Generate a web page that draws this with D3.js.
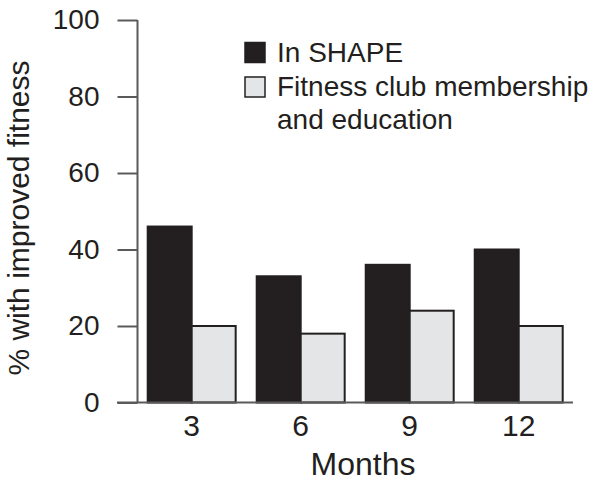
<!DOCTYPE html>
<html><head><meta charset="utf-8">
<script src="https://cdn.jsdelivr.net/npm/d3@7"></script>
<style>body{margin:0;background:#fff}svg{display:block}text{font-family:"Liberation Sans",Arial,sans-serif;fill:#231f20}</style>
</head><body><svg id="c" width="600" height="483"></svg>
<script>
const months = ["3","6","9","12"];
const seriesNames = ["In SHAPE","Fitness club membership and education"];
const inShape = [46,33,36,40];
const fitnessClub = [20,18,24,20];
const yTicks = [0,20,40,60,80,100];

const svg = d3.select("#c");
const x0 = d3.scaleBand().domain(months).range([138,572.4]).paddingInner(0.193).paddingOuter(0.089);
const x1 = d3.scaleBand().domain([0,1]).range([0,x0.bandwidth()]);
const y = d3.scaleLinear().domain([0,100]).range([402.5,20]);
const fills = ["#231f20","#e4e5e6"];
const axisCol = "#5a5a5c";

// bars
const data = months.map((m,i)=>({m, v:[inShape[i],fitnessClub[i]]}));
const g = svg.append("g");
data.forEach(d=>{
  d.v.forEach((v,j)=>{
    g.append("rect")
      .attr("x", x0(d.m)+x1(j)).attr("width", x1.bandwidth())
      .attr("y", y(v)).attr("height", y(0)-y(v))
      .attr("fill", fills[j]).attr("stroke","#231f20").attr("stroke-width",2);
  });
});

// y axis
const ya = svg.append("g").attr("transform","translate(137.5,0)")
  .call(d3.axisLeft(y).tickValues(yTicks).tickSize(20).tickPadding(18));
ya.select(".domain").attr("d",`M0,${y(100)}V${y(0)}`);
ya.selectAll("path,line").attr("stroke",axisCol).attr("stroke-width",2);
ya.selectAll("text").style("font-size","28px").attr("fill","#231f20").attr("font-family","Liberation Sans, Arial, sans-serif");

// x axis baseline
svg.append("line").attr("x1",117).attr("x2",573).attr("y1",y(0)).attr("y2",y(0))
  .attr("stroke",axisCol).attr("stroke-width",2);
const xa = svg.append("g").attr("transform",`translate(0,${y(0)})`)
  .call(d3.axisBottom(x0).tickSize(0).tickPadding(12));
xa.select(".domain").remove();
xa.selectAll("text").style("font-size","30px").attr("fill","#231f20").attr("font-family","Liberation Sans, Arial, sans-serif");

// axis titles
svg.append("text").attr("x",363).attr("y",475).attr("text-anchor","middle").style("font-size","32px").text("Months");
svg.append("text").attr("transform","translate(29,218) rotate(-90)").attr("text-anchor","middle").style("font-size","30px").text("% with improved fitness");

// legend
const lg = svg.append("g");
lg.append("rect").attr("x",245).attr("y",42.5).attr("width",20).attr("height",20).attr("fill",fills[0]).attr("stroke","#231f20").attr("stroke-width",1.5);
lg.append("rect").attr("x",245).attr("y",77).attr("width",20).attr("height",20).attr("fill",fills[1]).attr("stroke","#231f20").attr("stroke-width",1.5);
lg.append("text").attr("x",277).attr("y",62).style("font-size","28px").text(seriesNames[0]);
const t2 = lg.append("text").attr("x",277).attr("y",95.5).style("font-size","28px");
t2.append("tspan").attr("x",277).text("Fitness club membership");
t2.append("tspan").attr("x",277).attr("dy",33).text("and education");
</script></body></html>
